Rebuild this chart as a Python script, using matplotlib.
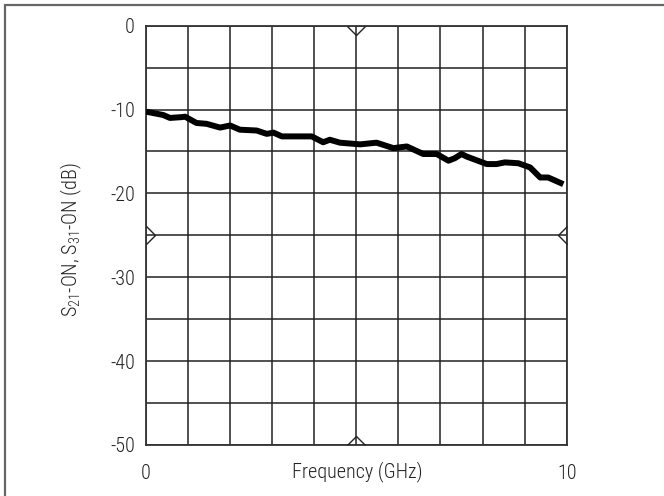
import matplotlib
matplotlib.use("Agg")
import matplotlib.pyplot as plt
from matplotlib.patches import Rectangle
from matplotlib.path import Path

plt.rcParams['font.family'] = ['Roboto Condensed', 'DejaVu Sans']
plt.rcParams['font.weight'] = 'light'

# curve (frequency in GHz, level in dB)
freq_ghz = [0.0, 0.41, 0.57, 0.85, 0.93, 1.2, 1.44, 1.76, 2.0, 2.23, 2.63, 2.87,
            3.03, 3.23, 3.94, 4.21, 4.37, 4.61, 5.09, 5.48, 5.88, 6.2, 6.59, 6.91,
            7.19, 7.34, 7.5, 7.62, 8.1, 8.33, 8.53, 8.85, 9.13, 9.37, 9.56, 9.92]
s21_db = [-10.25, -10.65, -11.0, -10.9, -10.85, -11.6, -11.7, -12.15, -11.9, -12.4,
          -12.5, -12.9, -12.75, -13.2, -13.2, -13.9, -13.6, -13.95, -14.15, -13.95,
          -14.6, -14.4, -15.3, -15.3, -16.1, -15.8, -15.3, -15.6, -16.5, -16.5,
          -16.3, -16.4, -16.9, -18.1, -18.1, -18.9]

y_ticks = [0, -10, -20, -30, -40, -50]
x_tick_labels = {0: "0", 10: "10"}

fig = plt.figure(figsize=(6.64, 4.96), dpi=100)
ax = fig.add_axes([146 / 664, 1 - 445 / 496, 420.7 / 664, 419.3 / 496])

ax.plot(freq_ghz, s21_db, color='black', lw=4.3, solid_capstyle='butt',
        solid_joinstyle='round', zorder=3)

ax.set_xlim(0, 10)
ax.set_ylim(-50, 0)
ax.set_xticks(range(0, 11))
ax.set_xticklabels([x_tick_labels.get(i, "") for i in range(0, 11)])
ax.set_yticks(range(-50, 1, 5))
ax.set_yticklabels([str(v) if v in y_ticks else "" for v in range(-50, 1, 5)])
ax.tick_params(axis='both', length=0, labelsize=14.5, colors='#222222')
ax.tick_params(axis='x', pad=14)
ax.tick_params(axis='y', pad=8)
ax.grid(True, color='#222222', lw=1.1)
for sp in ax.spines.values():
    sp.set_color('#333333')
    sp.set_linewidth(1.3)

# small open chevrons at the middle of each edge, base sitting on the spine
def chevron(verts):
    return Path(verts + [(0, 0)], [Path.MOVETO, Path.LINETO, Path.LINETO, Path.MOVETO])

mk = dict(color='#222222', markerfacecolor='none', markersize=13, mew=1.0,
          clip_on=False, zorder=4, linestyle='none')
ax.plot([5], [0], marker=chevron([(-1, 0), (0, -1), (1, 0)]), **mk)
ax.plot([5], [-50], marker=chevron([(-1, 0), (0, 1), (1, 0)]), **mk)
ax.plot([0], [-25], marker=chevron([(0, 1), (1, 0), (0, -1)]), **mk)
ax.plot([10], [-25], marker=chevron([(0, 1), (-1, 0), (0, -1)]), **mk)

fig.text(357 / 664, 1 - 472 / 496, "Frequency (GHz)", ha='center', va='center',
         fontsize=14.5, color='#222222')
fig.text(71 / 664, 1 - 240 / 496,
         r"S$_{\mathregular{21}}$-ON, S$_{\mathregular{31}}$-ON (dB)",
         rotation=90, ha='center', va='center', fontsize=14.5, color='#222222')

# page frame, only left and top edges fall inside the image
fig.patches.append(Rectangle((4.5 / 664, -0.1), 1.2, (1 - 5 / 496) + 0.1,
                             transform=fig.transFigure, fill=False,
                             edgecolor='#666666', lw=1.6))

fig.savefig("out.png", dpi=100)
